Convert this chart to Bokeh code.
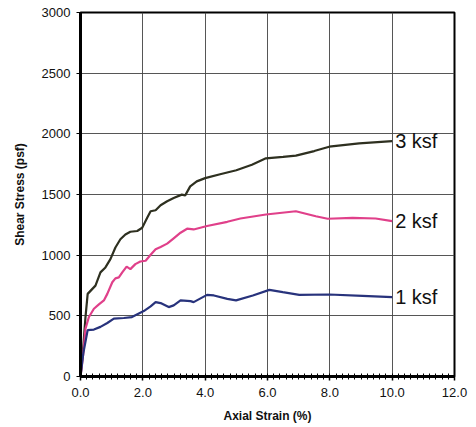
from bokeh.plotting import figure
from bokeh.models import Range1d, FixedTicker, NumeralTickFormatter, ColumnDataSource
from bokeh.core.properties import value
from bokeh.embed import file_html
from bokeh.resources import INLINE

# ---- data ----
x_3ksf = [0, 0.09, 0.16, 0.23, 0.48, 0.64, 0.80, 0.96, 1.12, 1.28, 1.44, 1.60, 1.82, 1.98,
          2.14, 2.25, 2.41, 2.57, 2.78, 2.99, 3.25, 3.36, 3.52, 3.73, 4.00, 4.48, 5.00,
          5.50, 5.95, 6.50, 6.91, 7.50, 7.98, 8.94, 10.0]
y_3ksf = [0, 250, 490, 681, 749, 858, 899, 967, 1063, 1131, 1171, 1193, 1199, 1226,
          1308, 1362, 1370, 1411, 1444, 1471, 1499, 1493, 1567, 1608, 1635, 1667, 1700,
          1745, 1798, 1810, 1820, 1858, 1894, 1921, 1940]

x_2ksf = [0, 0.09, 0.16, 0.27, 0.43, 0.59, 0.75, 0.86, 1.02, 1.12, 1.23, 1.34, 1.48, 1.60,
          1.76, 1.92, 2.09, 2.25, 2.41, 2.57, 2.78, 2.99, 3.21, 3.42, 3.63, 4.06, 4.71,
          5.13, 5.95, 6.91, 7.55, 7.93, 8.73, 9.47, 10.0]
y_2ksf = [0, 191, 395, 490, 558, 594, 627, 681, 777, 809, 817, 858, 905, 885,
          926, 948, 954, 1003, 1049, 1068, 1095, 1139, 1185, 1218, 1212, 1240, 1275,
          1302, 1335, 1362, 1321, 1300, 1308, 1302, 1281]

x_1ksf = [0, 0.09, 0.23, 0.43, 0.64, 0.86, 1.07, 1.39, 1.65, 2.03, 2.25, 2.41, 2.57, 2.83,
          2.99, 3.21, 3.53, 3.63, 4.06, 4.28, 4.71, 4.99, 5.53, 6.06, 6.49, 7.02, 7.98,
          9.05, 10.0]
y_1ksf = [0, 191, 382, 387, 409, 441, 477, 482, 490, 539, 578, 613, 605, 572,
          586, 627, 621, 613, 673, 668, 640, 627, 668, 714, 695, 673, 676,
          665, 654]

series_labels = ["3 ksf", "2 ksf", "1 ksf"]
x_ticks = [0, 2, 4, 6, 8, 10, 12]
y_ticks = [0, 500, 1000, 1500, 2000, 2500, 3000]

colors = ["#2e3020", "#e0408a", "#28337c"]

p = figure(width=468, height=425, output_backend="svg", toolbar_location=None,
           x_range=Range1d(0, 12), y_range=Range1d(0, 3000))
p.min_border_left = 80
p.min_border_right = 14
p.min_border_top = 12
p.min_border_bottom = 44

font = "Liberation Sans"

# axes
p.xaxis.ticker = FixedTicker(ticks=x_ticks, minor_ticks=[i * 0.2 for i in range(61)])
p.yaxis.ticker = FixedTicker(ticks=y_ticks)
p.xaxis.formatter = NumeralTickFormatter(format="0.0")
p.yaxis.formatter = NumeralTickFormatter(format="0")

for ax in (p.xaxis[0], p.yaxis[0]):
    ax.major_label_text_font = font
    ax.major_label_text_font_size = "13px"
    ax.major_label_text_color = "#111111"
    ax.axis_label_text_font = font
    ax.axis_label_text_font_size = "12px"
    ax.axis_label_text_font_style = "bold"
    ax.axis_label_text_color = "#111111"
    ax.axis_line_color = "black"
    ax.major_tick_line_color = "black"
    ax.major_tick_in = 0
    ax.major_tick_out = 4

p.xaxis.axis_label = "Axial Strain (%)"
p.yaxis.axis_label = "Shear Stress (psf)"
p.xaxis.axis_line_width = 3
p.yaxis.axis_line_width = 3
p.xaxis.minor_tick_in = 3
p.xaxis.minor_tick_out = 3
p.xaxis.minor_tick_line_color = "black"
p.xaxis.major_tick_line_width = 1.5
p.yaxis.minor_tick_line_color = None
p.xaxis.major_label_standoff = 7
p.yaxis.major_label_standoff = 6
p.xaxis.axis_label_standoff = 9
p.yaxis.axis_label_standoff = 12

# grid
p.xgrid.grid_line_color = "#444444"
p.ygrid.grid_line_color = "#444444"
p.xgrid.grid_line_width = 1
p.ygrid.grid_line_width = 1
p.xgrid.grid_line_alpha = 0.9
p.ygrid.grid_line_alpha = 0.9

p.outline_line_color = "black"
p.outline_line_width = 2
p.background_fill_color = "white"
p.border_fill_color = "white"

xs = [x_3ksf, x_2ksf, x_1ksf]
ys = [y_3ksf, y_2ksf, y_1ksf]
for xv, yv, c in zip(xs, ys, colors):
    p.line(xv, yv, line_color=c, line_width=2.2)

lab_src = ColumnDataSource(dict(x=[xv[-1] for xv in xs], y=[yv[-1] for yv in ys],
                                t=series_labels))
p.text(x="x", y="y", text="t", source=lab_src, x_offset=3,
       text_font=value(font), text_font_size="20px", text_color="#111111",
       text_align="left", text_baseline="middle")

open("out.html", "w").write(file_html(p, INLINE))
